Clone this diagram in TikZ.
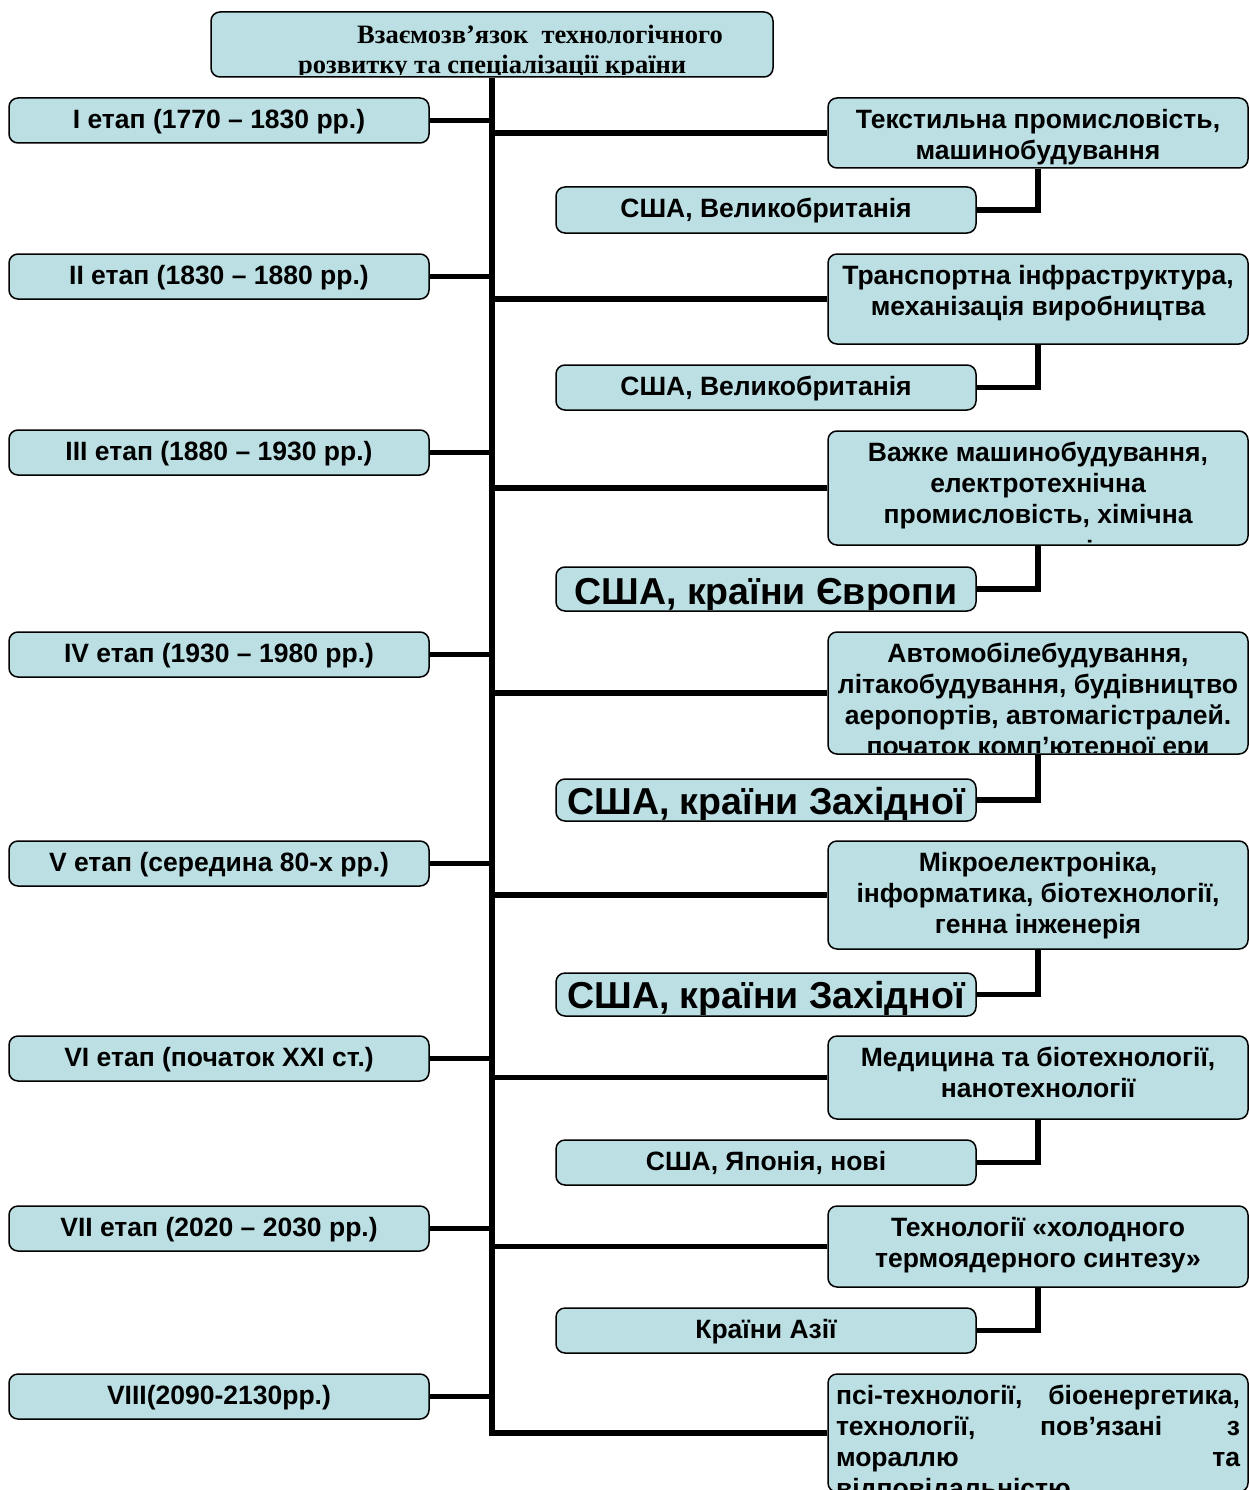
\documentclass[tikz,border=0pt]{standalone}
\usepackage{fontspec}
\setmainfont{Liberation Sans}
\newfontfamily\seriffont{Liberation Serif}
\usetikzlibrary{calc,backgrounds}
\definecolor{boxfill}{RGB}{187,223,227}
\tikzset{
 box/.style={draw=black, line width=1.5pt, fill=boxfill, rounded corners=9pt, inner sep=0pt},
 txt/.style={inner sep=0pt, anchor=north, align=center, font=\bfseries\fontsize{26.5}{31}\selectfont},
 big/.style={font=\bfseries\fontsize{37.5}{40}\selectfont},
 conn/.style={line width=5.5pt},
}
\newcommand\mybox[7]{%
 \node[box, minimum width={#4-#2}, minimum height={#5-#3}] (#1) at ({(#2+#4)/2},{(#3+#5)/2}) {};
 \begin{scope}
 \clip[rounded corners=7pt] ({#2+2},{#3+2}) rectangle ({#4-2},{#5-2});
 \node[txt,#6] (#1t) at ({(#2+#4)/2},{#3+11}) {#7};
 \end{scope}}
\begin{document}
\begin{tikzpicture}[x=1pt,y=-1pt]
\clip (0,0) rectangle (1249,1490);
% title
\node[box, minimum width=562, minimum height=65] (T) at (492,44.5) {};
\begin{scope}
\clip[rounded corners=7pt] (213,14) rectangle (771,75);
\node[inner sep=0pt, anchor=north west, align=left, font=\seriffont\bfseries\fontsize{26.5}{30}\selectfont] (Tt) at (298,25) {\hspace*{59pt}Взаємозв’язок\ \ технологічного\\розвитку та спеціалізації країни};
\end{scope}
% left stages
\mybox{L1}{9}{98}{429}{143}{}{I етап (1770 – 1830 рр.)}
\mybox{L2}{9}{254}{429}{299}{}{II етап (1830 – 1880 рр.)}
\mybox{L3}{9}{430}{429}{475}{}{III етап (1880 – 1930 рр.)}
\mybox{L4}{9}{632}{429}{677}{}{IV етап (1930 – 1980 рр.)}
\mybox{L5}{9}{841}{429}{886}{}{V етап (середина 80-х рр.)}
\mybox{L6}{9}{1036}{429}{1081}{}{VI етап (початок XXI ст.)}
\mybox{L7}{9}{1206}{429}{1251}{}{VII етап (2020 – 2030 рр.)}
\mybox{L8}{9}{1374}{429}{1419}{}{VIII(2090-2130рр.)}
% right upper boxes
\mybox{R1}{828}{98}{1248}{168}{}{Текстильна промисловість,\\ машинобудування}
\mybox{R2}{828}{254}{1248}{344}{}{Транспортна інфраструктура,\\ механізація виробництва}
\mybox{R3}{828}{431}{1248}{545}{}{Важке машинобудування,\\ електротехнічна\\ промисловість, хімічна\\[5pt] промисловість}
\mybox{R4}{828}{632}{1248}{754}{}{Автомобілебудування,\\ літакобудування, будівництво\\ аеропортів, автомагістралей.\\ початок комп’ютерної ери}
\mybox{R5}{828}{841}{1248}{949}{}{Мікроелектроніка,\\ інформатика, біотехнології,\\ генна інженерія}
\mybox{R6}{828}{1036}{1248}{1119}{}{Медицина та біотехнології,\\ нанотехнології}
\mybox{R7}{828}{1206}{1248}{1287}{}{Технології «холодного\\ термоядерного синтезу»}
\mybox{R8}{828}{1374}{1248}{1492}{}{\hbox to 404pt{псі-технології,\hfill біоенергетика,}\\ \hbox to 404pt{технології,\hfill пов’язані\hfill з}\\ \hbox to 404pt{мораллю\hfill та}\\ \hbox to 404pt{відповідальністю\hfill}}
% lower boxes
\mybox{B1}{556}{187}{976}{233}{}{США, Великобританія}
\mybox{B2}{556}{365}{976}{410}{}{США, Великобританія}
\mybox{B3}{556}{567}{976}{611}{big}{США, країни Європи}
\mybox{B4}{556}{779}{976}{821}{big,yshift=3pt}{США, країни Західної}
\mybox{B5}{556}{973}{976}{1016}{big,yshift=3pt}{США, країни Західної}
\mybox{B6}{556}{1140}{976}{1185}{}{США, Японія, нові}
\mybox{B7}{556}{1308}{976}{1353}{}{Країни Азії}
% connectors
\begin{scope}[on background layer]
\fill[white] (0,0) rectangle (1249,1490);
\draw[conn] (T.south) |- (R8.west);
\foreach \n in {L1,L2,L3,L4,L5,L6,L7,L8}{\draw[conn] (\n.east) -- (\n.east -| T.south);}
\foreach \n in {R1,R2,R3,R4,R5,R6,R7}{\draw[conn] (\n.west) -- (\n.west -| T.south);}
\foreach \a/\b in {B1/R1,B2/R2,B3/R3,B4/R4,B5/R5,B6/R6,B7/R7}{\draw[conn] (\a.east) -| (\b.south);}
\end{scope}
\end{tikzpicture}
\end{document}
